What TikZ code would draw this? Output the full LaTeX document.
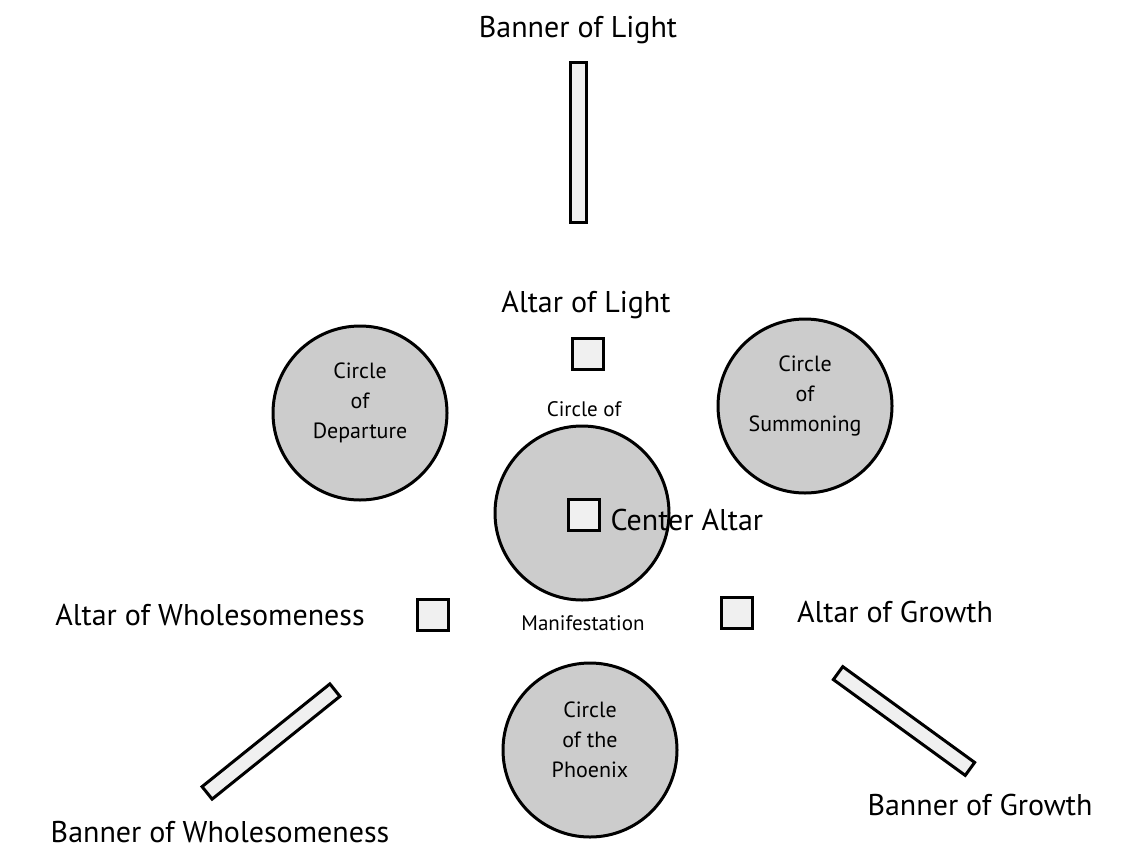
\documentclass[tikz,border=0pt]{standalone}
\usepackage{fontspec}
\setmainfont{PT Sans}
\begin{document}
\begin{tikzpicture}[x=1pt,y=-1pt,
  big/.style={font=\fontsize{30}{32}\selectfont},
  small/.style={font=\fontsize{22}{30}\selectfont,align=center},
  circ/.style={circle,draw=black,line width=3pt,fill=gray!40,minimum size=174pt,inner sep=0pt},
  box/.style={draw=black,line width=3pt,fill=gray!12,minimum size=31pt,inner sep=0pt},
  banner/.style={draw=black,line width=3pt,fill=gray!12,minimum width=16pt,inner sep=0pt}]
\useasboundingbox (0,0) rectangle (1147,865);
\node[big] (tbl) at (578,30) {Banner of Light};
\node[banner,minimum height=160pt] (bl) at (578.5,142) {};
\node[big] (tal) at (586,305) {Altar of Light};
\node[box] (al) at (587.5,353.5) {};
\node[circ] (cd) at (360,413) {};
\node[small] at (360,403) {Circle\\of\\Departure};
\node[circ] (cs) at (805,406) {};
\node[small] at (805,396) {Circle\\of\\Summoning};
\node[circ] (cm) at (582,513) {};
\node[small,font=\fontsize{21}{24}\selectfont] (tcm1) at (584,409) {Circle of};
\node[small,font=\fontsize{21}{24}\selectfont] (tcm2) at (583,623) {Manifestation};
\node[box] (ca) at (583.5,515) {};
\node[big,anchor=west] (tca) at (607,520) {Center Altar};
\node[box] (aw) at (433,615) {};
\node[big] (taw) at (210,615) {Altar of Wholesomeness};
\node[box] (ag) at (736.5,612.5) {};
\node[big] (tag) at (895,612) {Altar of Growth};
\node[circ] (cp) at (590,750) {};
\node[small] at (590,740) {Circle\\of the\\Phoenix};
\node[banner,minimum height=164pt,rotate=-51.2] (bw) at (271,741.5) {};
\node[big] (tbw) at (220,832) {Banner of Wholesomeness};
\node[banner,minimum height=163pt,rotate=54] (bg) at (904,721) {};
\node[big] (tbg) at (980,805) {Banner of Growth};
\end{tikzpicture}
\end{document}
